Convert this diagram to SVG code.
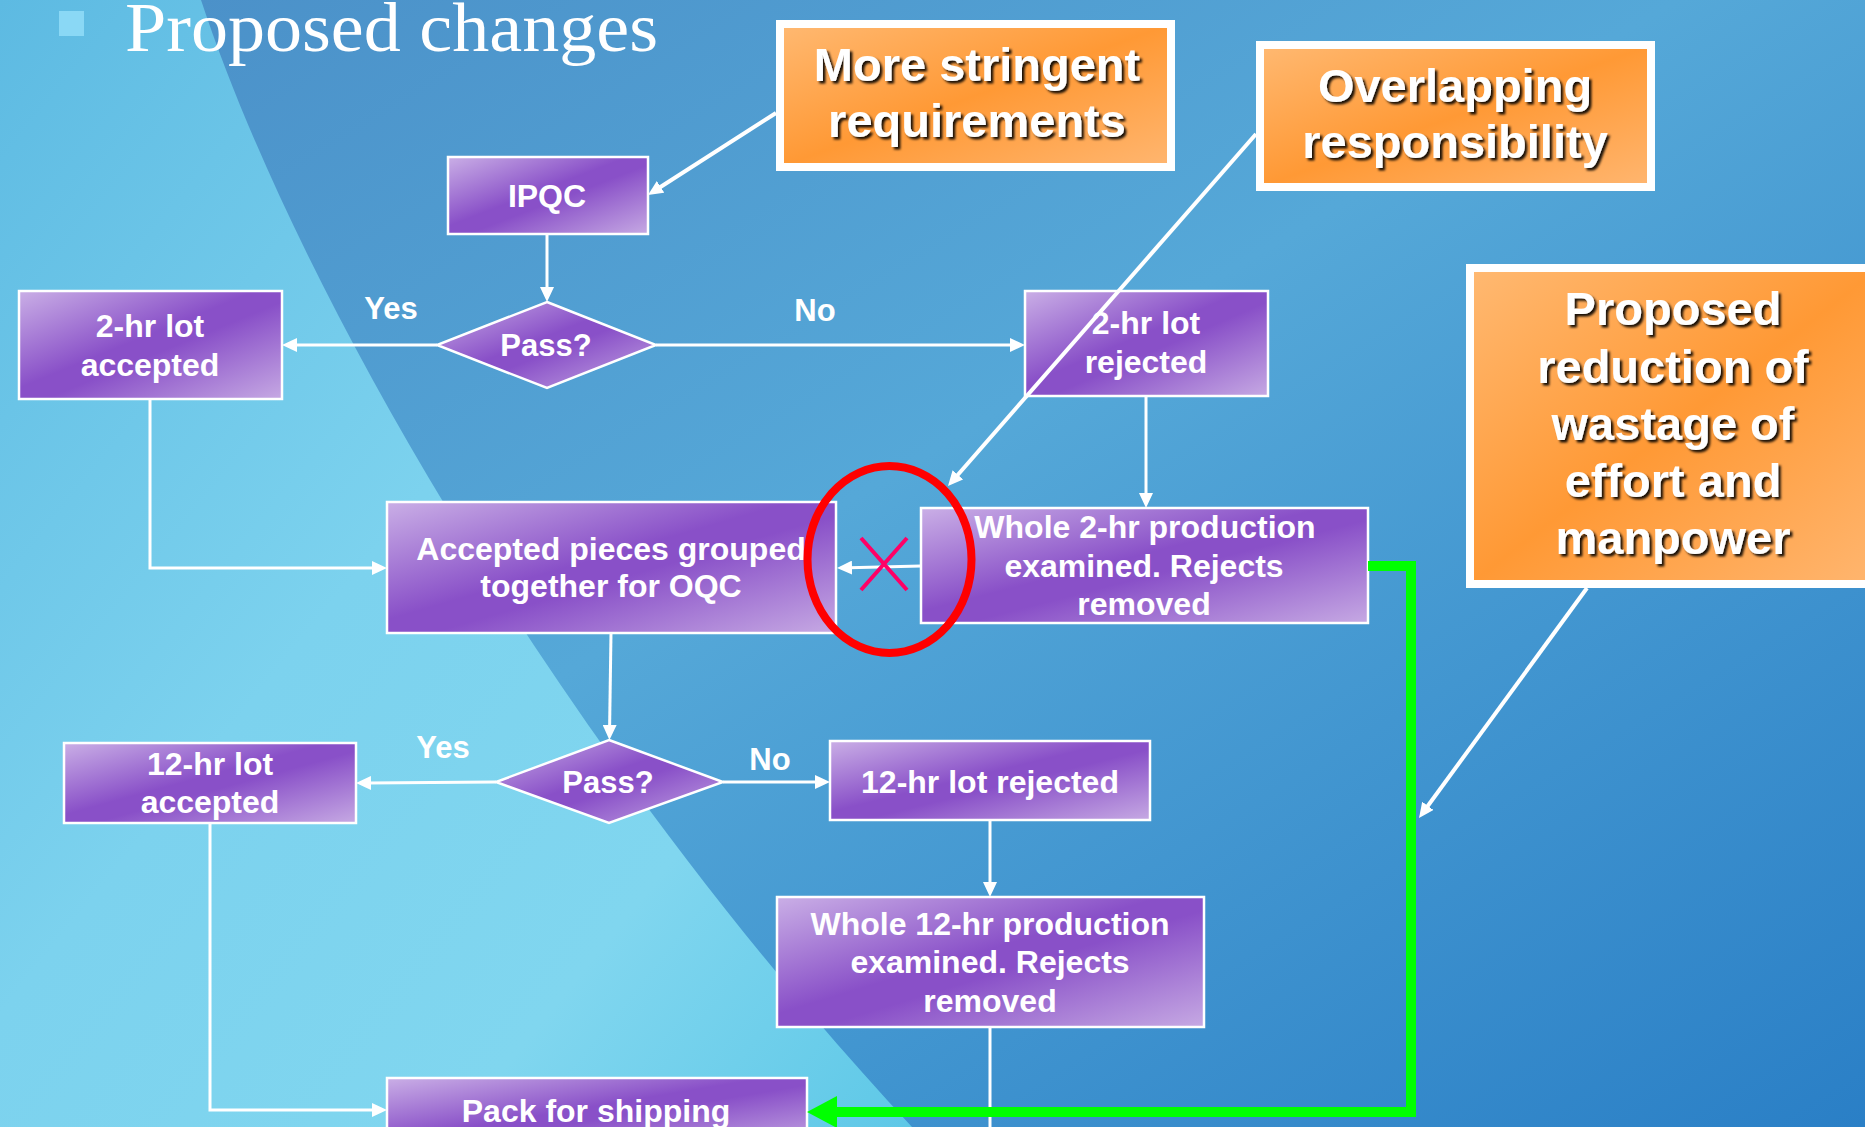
<svg xmlns="http://www.w3.org/2000/svg" width="1865" height="1127" viewBox="0 0 1865 1127">
<defs>
  <linearGradient id="bgMain" x1="0" y1="0" x2="1" y2="1">
    <stop offset="0" stop-color="#4a8ec7"/>
    <stop offset="0.45" stop-color="#55a8d8"/>
    <stop offset="1" stop-color="#2a7fc6"/>
  </linearGradient>
  <linearGradient id="bgLight" x1="0" y1="0" x2="1" y2="1">
    <stop offset="0" stop-color="#5dbae2"/>
    <stop offset="0.45" stop-color="#7cd2ee"/>
    <stop offset="0.75" stop-color="#80d6ef"/>
    <stop offset="1" stop-color="#5ec8e7"/>
  </linearGradient>
  <linearGradient id="purple" x1="0" y1="0" x2="1" y2="1">
    <stop offset="0" stop-color="#caafe6"/>
    <stop offset="0.45" stop-color="#8950c8"/>
    <stop offset="0.55" stop-color="#8950c8"/>
    <stop offset="1" stop-color="#c6a9e3"/>
  </linearGradient>
  <linearGradient id="orange" x1="0" y1="0" x2="1" y2="1">
    <stop offset="0" stop-color="#ffb972"/>
    <stop offset="0.5" stop-color="#ff9935"/>
    <stop offset="1" stop-color="#ffb670"/>
  </linearGradient>
  <filter id="shadow" x="-10%" y="-30%" width="130%" height="170%">
    <feDropShadow dx="2.5" dy="2.5" stdDeviation="0.8" flood-color="#000" flood-opacity="0.9"/>
  </filter>
  <marker id="arrow" viewBox="0 0 15 14" markerWidth="15" markerHeight="14" refX="3" refY="7" orient="auto" markerUnits="userSpaceOnUse">
    <path d="M0,0 L15,7 L0,14 z" fill="#ffffff"/>
  </marker>
  <marker id="garrow" viewBox="0 0 30 32" markerWidth="30" markerHeight="32" refX="0" refY="16" orient="auto" markerUnits="userSpaceOnUse">
    <path d="M0,0 L30,16 L0,32 z" fill="#00ff00"/>
  </marker>
  <style>
    .box { fill: url(#purple); stroke: #ffffff; stroke-width: 2.5; }
    .call { fill: url(#orange); stroke: #ffffff; stroke-width: 8; }
    .t { font-family: "Liberation Sans", Arial, sans-serif; font-weight: bold; font-size: 32px; fill: #ffffff; text-anchor: middle; }
    .lbl { font-size: 31px; }
    .ct { font-family: "Liberation Sans", Arial, sans-serif; font-weight: bold; font-size: 47px; fill: #ffffff; text-anchor: middle; filter: url(#shadow); }
    .con { fill: none; stroke: #ffffff; stroke-width: 3; marker-end: url(#arrow); }
    .ptr { fill: none; stroke: #ffffff; stroke-width: 4; marker-end: url(#arrow); }
    .green { fill: none; stroke: #00ff00; stroke-width: 10; marker-end: url(#garrow); }
  </style>
</defs>

<g id="background">
  <rect x="0" y="0" width="1865" height="1127" fill="url(#bgMain)"/>
  <path d="M0,0 L201,0 C300,300 570,760 912,1127 L0,1127 Z" fill="url(#bgLight)"/>
  <rect x="59" y="11" width="25" height="25" fill="#8ad8f5"/>
  <text x="125" y="51" font-family="'Liberation Serif', 'Times New Roman', serif" font-size="70" textLength="533" lengthAdjust="spacingAndGlyphs" fill="#ffffff">Proposed changes</text>
</g>

<g id="node-ipqc">
  <rect class="box" x="448" y="157" width="200" height="77"/>
  <text class="t" x="547" y="207">IPQC</text>
</g>
<g id="node-pass1">
  <polygon class="box" points="547,302 656,345 547,388 437,345"/>
  <text class="t lbl" x="546" y="356">Pass?</text>
</g>
<g id="node-2hr-accepted">
  <rect class="box" x="19" y="291" width="263" height="108"/>
  <text class="t" x="150" y="337">2-hr lot</text>
  <text class="t" x="150" y="376">accepted</text>
</g>
<g id="node-2hr-rejected">
  <rect class="box" x="1025" y="291" width="243" height="105"/>
  <text class="t" x="1146" y="334">2-hr lot</text>
  <text class="t" x="1146" y="373">rejected</text>
</g>
<g id="node-accepted-pieces">
  <rect class="box" x="387" y="502" width="449" height="131"/>
  <text class="t" x="611" y="560">Accepted pieces grouped</text>
  <text class="t" x="611" y="597">together for OQC</text>
</g>
<g id="node-whole-2hr">
  <rect class="box" x="921" y="508" width="447" height="115"/>
  <text class="t" x="1145" y="538">Whole 2-hr production</text>
  <text class="t" x="1144" y="577">examined. Rejects</text>
  <text class="t" x="1144" y="615">removed</text>
</g>
<g id="node-pass2">
  <polygon class="box" points="609,740 723,782 609,823 496,782"/>
  <text class="t lbl" x="608" y="793">Pass?</text>
</g>
<g id="node-12hr-accepted">
  <rect class="box" x="64" y="743" width="292" height="80"/>
  <text class="t" x="210" y="775">12-hr lot</text>
  <text class="t" x="210" y="813">accepted</text>
</g>
<g id="node-12hr-rejected">
  <rect class="box" x="830" y="741" width="320" height="79"/>
  <text class="t" x="990" y="793">12-hr lot rejected</text>
</g>
<g id="node-whole-12hr">
  <rect class="box" x="777" y="897" width="427" height="130"/>
  <text class="t" x="990" y="935">Whole 12-hr production</text>
  <text class="t" x="990" y="973">examined. Rejects</text>
  <text class="t" x="990" y="1012">removed</text>
</g>
<g id="node-pack">
  <rect class="box" x="387" y="1078" width="420" height="70"/>
  <text class="t" x="596" y="1122">Pack for shipping</text>
</g>

<g id="callout-stringent">
  <rect class="call" x="780" y="24" width="391" height="143"/>
  <text class="ct" x="977" y="81">More stringent</text>
  <text class="ct" x="977" y="137">requirements</text>
</g>
<g id="callout-overlapping">
  <rect class="call" x="1260" y="45" width="391" height="142"/>
  <text class="ct" x="1455" y="102">Overlapping</text>
  <text class="ct" x="1455" y="158">responsibility</text>
</g>
<g id="callout-reduction">
  <rect class="call" x="1470" y="268" width="410" height="316"/>
  <text class="ct" x="1673" y="325">Proposed</text>
  <text class="ct" x="1673" y="383">reduction of</text>
  <text class="ct" x="1673" y="440">wastage of</text>
  <text class="ct" x="1673" y="497">effort and</text>
  <text class="ct" x="1673" y="554">manpower</text>
</g>

<g id="connectors">
  <path class="con" d="M547,234 V290"/>
  <path class="con" d="M437,345 H294"/>
  <path class="con" d="M656,345 H1013"/>
  <path class="con" d="M150,399 V568 H375"/>
  <path class="con" d="M1146,396 V496"/>
  <path class="con" d="M921,566 L849,567.7"/>
  <path class="con" d="M611,633 L609.6,728"/>
  <path class="con" d="M496,782 L368,783"/>
  <path class="con" d="M723,782 H818"/>
  <path class="con" d="M210,823 V1110 H375"/>
  <path class="con" d="M990,820 V885"/>
  <path fill="none" stroke="#ffffff" stroke-width="3" d="M990,1027 V1127"/>
  <path class="green" d="M1368,566 H1411 V1112 H837"/>
  <path class="ptr" d="M776,113 L658.1,188.5"/>
  <path class="ptr" d="M1256,134 L955.9,477"/>
  <path class="ptr" d="M1587,588 L1426.1,808.3"/>
</g>

<g id="annotation">
  <text class="t lbl" x="391" y="319">Yes</text>
  <text class="t lbl" x="815" y="321">No</text>
  <text class="t lbl" x="443" y="758">Yes</text>
  <text class="t lbl" x="770" y="770">No</text>
  <ellipse cx="889.5" cy="559.5" rx="82" ry="93.5" fill="none" stroke="#ff0000" stroke-width="8"/>
  <path d="M861,538 L907,590 M907,538 L861,590" fill="none" stroke="#ff0066" stroke-width="4"/>
</g>
</svg>
